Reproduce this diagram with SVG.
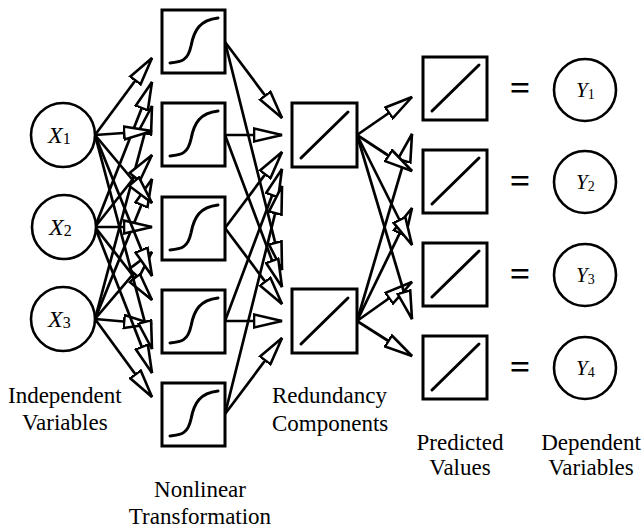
<svg xmlns="http://www.w3.org/2000/svg" xmlns:xlink="http://www.w3.org/1999/xlink" width="644" height="528" viewBox="0 0 644 528">
<style>
.bx{fill:#fff;stroke:#000;stroke-width:3}
.cr{fill:#fff;stroke:#000;stroke-width:2.6}
.cv{fill:none;stroke:#000;stroke-width:3;stroke-linecap:round}
.a{stroke:#000;stroke-width:2.7;marker-end:url(#ah)}
.t{font-size:23px}
.xv{font-size:24px;font-style:italic}
.yv{font-size:21px;font-style:italic}
.sub{font-style:normal}
.eq{font-size:36px;font-weight:bold;text-anchor:middle}
</style>
<defs>
<marker id="ah" markerUnits="userSpaceOnUse" viewBox="0 0 31 16" markerWidth="31" markerHeight="16" refX="29" refY="8" orient="auto">
<path d="M1,1.5 L29,8 L1,14.5 Z" fill="#fff" stroke="#000" stroke-width="2.6" stroke-linejoin="miter"/>
</marker>
<path id="sig" d="M8,53 C20,52 26,50 29,36 C32,20 38,10 56,8" class="cv"/>
<path id="lin" d="M9,54 L56,8" class="cv"/>
</defs>
<rect width="644" height="528" fill="#fff"/>
<g id="connectors">
<line class="a" x1="95" y1="135" x2="152" y2="58"/>
<line class="a" x1="95" y1="227" x2="152" y2="82"/>
<line class="a" x1="95" y1="319" x2="152" y2="106"/>
<line class="a" x1="95" y1="135" x2="152" y2="131"/>
<line class="a" x1="95" y1="227" x2="152" y2="155"/>
<line class="a" x1="95" y1="319" x2="152" y2="179"/>
<line class="a" x1="95" y1="135" x2="152" y2="203"/>
<line class="a" x1="95" y1="227" x2="152" y2="227"/>
<line class="a" x1="95" y1="319" x2="152" y2="252"/>
<line class="a" x1="95" y1="135" x2="152" y2="276"/>
<line class="a" x1="95" y1="227" x2="152" y2="300"/>
<line class="a" x1="95" y1="319" x2="152" y2="324"/>
<line class="a" x1="95" y1="135" x2="152" y2="349"/>
<line class="a" x1="95" y1="227" x2="152" y2="373"/>
<line class="a" x1="95" y1="319" x2="152" y2="397"/>
<line class="a" x1="225" y1="42" x2="282" y2="118"/>
<line class="a" x1="225" y1="135" x2="282" y2="135"/>
<line class="a" x1="225" y1="228" x2="282" y2="152"/>
<line class="a" x1="225" y1="321" x2="282" y2="169"/>
<line class="a" x1="225" y1="414" x2="282" y2="186"/>
<line class="a" x1="225" y1="42" x2="282" y2="270"/>
<line class="a" x1="225" y1="135" x2="282" y2="287"/>
<line class="a" x1="225" y1="228" x2="282" y2="304"/>
<line class="a" x1="225" y1="321" x2="282" y2="321"/>
<line class="a" x1="225" y1="414" x2="282" y2="338"/>
<line class="a" x1="357" y1="135" x2="412" y2="97"/>
<line class="a" x1="357" y1="321" x2="412" y2="134"/>
<line class="a" x1="357" y1="135" x2="412" y2="171"/>
<line class="a" x1="357" y1="321" x2="412" y2="208"/>
<line class="a" x1="357" y1="135" x2="412" y2="245"/>
<line class="a" x1="357" y1="321" x2="412" y2="282"/>
<line class="a" x1="357" y1="135" x2="412" y2="319"/>
<line class="a" x1="357" y1="321" x2="412" y2="356"/>
</g>
<g font-family="Liberation Serif, serif" fill="#000">
<g id="x1"><circle class="cr" cx="63" cy="135" r="32"/><text class="xv" x="48" y="143">X<tspan class="sub" font-size="16" dy="1">1</tspan></text></g>
<g id="x2"><circle class="cr" cx="64" cy="227" r="32"/><text class="xv" x="49" y="235">X<tspan class="sub" font-size="16" dy="1">2</tspan></text></g>
<g id="x3"><circle class="cr" cx="63" cy="319" r="32"/><text class="xv" x="48" y="327">X<tspan class="sub" font-size="16" dy="1">3</tspan></text></g>
<g id="h1"><rect class="bx" x="162" y="10" width="63" height="63"/><use xlink:href="#sig" x="162" y="10"/></g>
<g id="h2"><rect class="bx" x="162" y="103" width="63" height="63"/><use xlink:href="#sig" x="162" y="103"/></g>
<g id="h3"><rect class="bx" x="162" y="197" width="63" height="63"/><use xlink:href="#sig" x="162" y="197"/></g>
<g id="h4"><rect class="bx" x="162" y="290" width="63" height="63"/><use xlink:href="#sig" x="162" y="290"/></g>
<g id="h5"><rect class="bx" x="162" y="383" width="63" height="63"/><use xlink:href="#sig" x="162" y="383"/></g>
<g id="r1"><rect class="bx" x="292" y="103" width="65" height="64"/><use xlink:href="#lin" x="292" y="104"/></g>
<g id="r2"><rect class="bx" x="292" y="289" width="65" height="64"/><use xlink:href="#lin" x="292" y="290"/></g>
<g id="p1"><rect class="bx" x="423" y="57" width="64" height="63"/><use xlink:href="#lin" x="423" y="57"/></g>
<g id="p2"><rect class="bx" x="423" y="150" width="64" height="63"/><use xlink:href="#lin" x="423" y="150"/></g>
<g id="p3"><rect class="bx" x="423" y="243" width="64" height="63"/><use xlink:href="#lin" x="423" y="243"/></g>
<g id="p4"><rect class="bx" x="423" y="336" width="64" height="63"/><use xlink:href="#lin" x="423" y="336"/></g>
<g id="eqs">
<text class="eq" x="520" y="100">=</text>
<text class="eq" x="520" y="193">=</text>
<text class="eq" x="520" y="286">=</text>
<text class="eq" x="520" y="379">=</text>
</g>
<g id="y1"><circle class="cr" cx="585" cy="90" r="31"/><text class="yv" x="576" y="97">Y<tspan class="sub" font-size="14" dy="2">1</tspan></text></g>
<g id="y2"><circle class="cr" cx="585" cy="182" r="31"/><text class="yv" x="576" y="189">Y<tspan class="sub" font-size="14" dy="2">2</tspan></text></g>
<g id="y3"><circle class="cr" cx="585" cy="275" r="31"/><text class="yv" x="576" y="282">Y<tspan class="sub" font-size="14" dy="2">3</tspan></text></g>
<g id="y4"><circle class="cr" cx="585" cy="368" r="31"/><text class="yv" x="576" y="375">Y<tspan class="sub" font-size="14" dy="2">4</tspan></text></g>
<g id="labels">
<text class="t" x="8" y="403">Independent</text>
<text class="t" x="22" y="430">Variables</text>
<text class="t" x="200" y="497" text-anchor="middle">Nonlinear</text>
<text class="t" x="200" y="524" text-anchor="middle">Transformation</text>
<text class="t" x="272" y="403">Redundancy</text>
<text class="t" x="272" y="431">Components</text>
<text class="t" x="460" y="450" text-anchor="middle">Predicted</text>
<text class="t" x="460" y="475" text-anchor="middle">Values</text>
<text class="t" x="591" y="450" text-anchor="middle">Dependent</text>
<text class="t" x="591" y="475" text-anchor="middle">Variables</text>
</g>
</g>
</svg>
